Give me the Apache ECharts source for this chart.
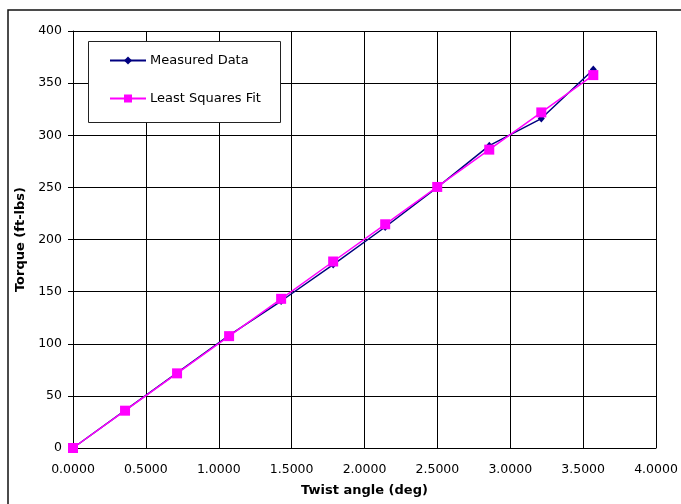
<!DOCTYPE html>
<html>
<head>
<meta charset="utf-8">
<script src="https://cdn.jsdelivr.net/npm/echarts@6/dist/echarts.min.js"></script>
<style>html,body{margin:0;padding:0;background:#fff;}#c{width:681px;height:504px;}</style>
</head>
<body>
<div id="c"></div>
<script>
const twistAngle = [0, 0.357, 0.714, 1.071, 1.428, 1.785, 2.142, 2.499, 2.856, 3.213, 3.570];
const measured   = [0, 36, 72, 108, 141, 176, 212, 250, 290, 316, 363];
const leastSq    = [0, 35.8, 71.6, 107.3, 143.1, 178.9, 214.6, 250.4, 286.2, 321.9, 357.7];
const seriesNames = ['Measured Data', 'Least Squares Fit'];

const pair = (xs, ys) => xs.map((x, i) => [x, ys[i]]);
const FONT = 'DejaVu Sans';

const chart = echarts.init(document.getElementById('c'), null, {renderer: 'canvas'});
chart.setOption({
  backgroundColor: '#fff',
  animation: false,
  grid: {left: 73, right: 25, top: 31, bottom: 56, show: false},
  graphic: [
    {type: 'rect', z: -10, shape: {x: 8, y: 10, width: 700, height: 520},
     style: {fill: 'none', stroke: '#111', lineWidth: 1.5}},
    {type: 'rect', z: 90, shape: {x: 88.5, y: 41.5, width: 192, height: 81},
     style: {fill: '#fff', stroke: '#222', lineWidth: 1}}
  ],
  legend: {
    z: 100,
    orient: 'vertical',
    left: 109, top: 54,
    itemWidth: 36, itemHeight: 10, itemGap: 25,
    padding: 0,
    textStyle: {fontFamily: FONT, fontSize: 13, color: '#000', padding: [0, 0, 0, -1]},
    data: seriesNames
  },
  xAxis: {
    type: 'value', min: 0, max: 4, interval: 0.5,
    name: 'Twist angle (deg)', nameLocation: 'middle', nameGap: 36,
    nameTextStyle: {fontFamily: FONT, fontSize: 13, fontWeight: 'bold', color: '#000'},
    axisLine: {show: true, lineStyle: {color: '#000', width: 1}},
    axisTick: {show: true, inside: true, length: 4, lineStyle: {color: '#000'}},
    axisLabel: {fontFamily: FONT, fontSize: 12.5, color: '#000', margin: 15,
      formatter: v => v.toFixed(4)},
    splitLine: {show: true, lineStyle: {color: '#000', width: 1}}
  },
  yAxis: {
    type: 'value', min: 0, max: 400, interval: 50,
    name: 'Torque (ft-lbs)', nameLocation: 'middle', nameGap: 44, nameRotate: 90,
    nameTextStyle: {fontFamily: FONT, fontSize: 13, fontWeight: 'bold', color: '#000'},
    axisLine: {show: true, lineStyle: {color: '#000', width: 1}},
    axisTick: {show: true, length: 5, lineStyle: {color: '#000'}},
    axisLabel: {fontFamily: FONT, fontSize: 12.5, color: '#000', margin: 11},
    splitLine: {show: true, lineStyle: {color: '#000', width: 1}}
  },
  series: [
    {
      name: seriesNames[0], type: 'line', data: pair(twistAngle, measured),
      symbol: 'diamond', symbolSize: [7, 8],
      lineStyle: {color: '#000080', width: 1.5},
      itemStyle: {color: '#000080'},
      z: 3
    },
    {
      name: seriesNames[1], type: 'line', data: pair(twistAngle, leastSq),
      symbol: 'rect', symbolSize: 10,
      lineStyle: {color: '#FF00FF', width: 1.5},
      itemStyle: {color: '#FF00FF'},
      z: 4
    }
  ]
});
</script>
</body>
</html>
